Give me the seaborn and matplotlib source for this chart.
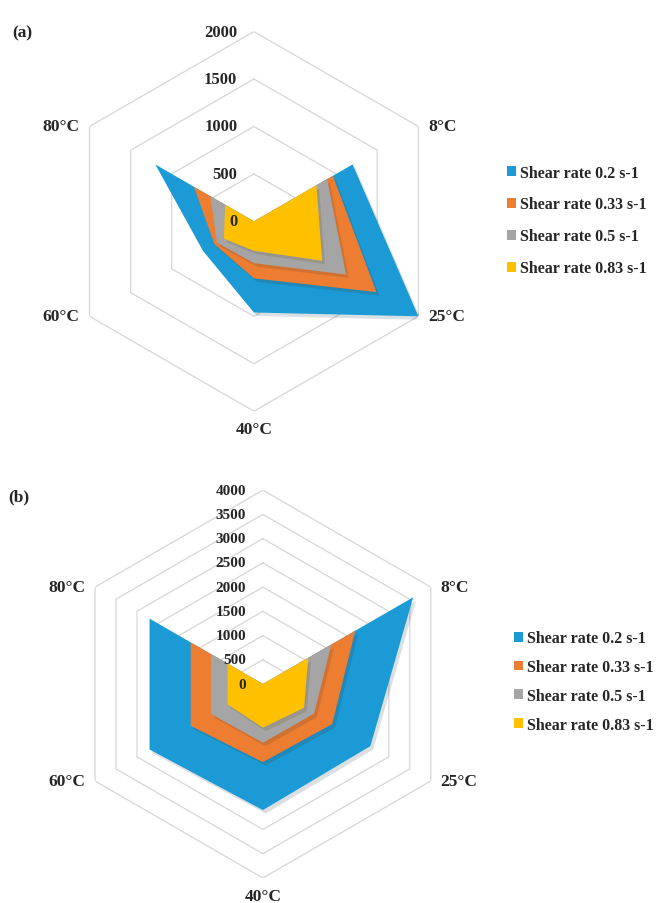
import numpy as np
import matplotlib
matplotlib.use("Agg")
import matplotlib.pyplot as plt
import matplotlib.patheffects as pe
from matplotlib.patches import Patch
import seaborn as sns

# categories around the radar, clockwise from the top (top spoke has no label)
categories = ["", "8°C", "25°C", "40°C", "60°C", "80°C"]
series_names = ["Shear rate 0.2 s-1", "Shear rate 0.33 s-1",
                "Shear rate 0.5 s-1", "Shear rate 0.83 s-1"]

# panel (a)
a_rate_02 = [0, 1200, 2000, 960, 620, 1200]
a_rate_033 = [0, 960, 1490, 600, 480, 730]
a_rate_05 = [0, 890, 1120, 440, 450, 530]
a_rate_083 = [0, 760, 830, 310, 365, 350]
a_ticks = [0, 500, 1000, 1500, 2000]

# panel (b)
b_rate_02 = [0, 3580, 2560, 2600, 2700, 2700]
b_rate_033 = [0, 2200, 1650, 1610, 1720, 1720]
b_rate_05 = [0, 1630, 1220, 1210, 1235, 1235]
b_rate_083 = [0, 1080, 980, 900, 840, 840]
b_ticks = [0, 500, 1000, 1500, 2000, 2500, 3000, 3500, 4000]

sns.set_style("white")
plt.rcParams["font.family"] = ["Liberation Serif", "DejaVu Serif"]
plt.rcParams["font.weight"] = "bold"

palette = sns.color_palette(["#1b9ad6", "#ed7d31", "#a5a5a5", "#ffc000"])

fig = plt.figure(figsize=(6.56, 9.04), dpi=100)
fig.patch.set_facecolor("white")

theta = np.linspace(0, 2 * np.pi, len(categories), endpoint=False)
closed = np.append(theta, theta[0])


def radar(rect, series, ticks, tick_size, leg_anchor, leg_space):
    ax = fig.add_axes(rect, projection="polar")
    ax.set_theta_zero_location("N")
    ax.set_theta_direction(-1)
    ax.set_ylim(0, ticks[-1])
    ax.grid(False)
    ax.spines["polar"].set_visible(False)
    ax.set_xticks([])
    ax.set_yticks([])
    ax.set_facecolor("none")

    # hexagonal grid rings
    for t in ticks[1:]:
        ax.plot(closed, [t] * len(closed), color="#d6d6d6", lw=0.9, zorder=1)

    for vals, c in zip(series, palette):
        v = list(vals) + [vals[0]]
        ax.fill(closed, v, color=c, lw=0, zorder=2,
                path_effects=[pe.SimplePatchShadow(offset=(2, -2.5), alpha=0.15),
                              pe.Normal()])

    for t in ticks:
        ax.annotate(f"{t}", xy=(0, t), xytext=(-12, 0), textcoords="offset points",
                    ha="right", va="center", fontsize=tick_size, fontweight="bold",
                    zorder=5)

    rmax = ticks[-1]
    for ang, lab in zip(theta, categories):
        if not lab:
            continue
        deg = np.degrees(ang)
        if deg < 170:
            off, ha = (7, 0), "left"
        elif deg < 190:
            off, ha = (0, -13), "center"
        else:
            off, ha = (-7, 0), "right"
        ax.annotate(lab, xy=(ang, rmax), xytext=off, textcoords="offset points",
                    ha=ha, va="center", fontsize=12.5, fontweight="bold")

    handles = [Patch(facecolor=c, edgecolor="none") for c in palette]
    fig.legend(handles, series_names, loc="center left", bbox_to_anchor=leg_anchor,
               frameon=False, handlelength=0.55, handleheight=0.55,
               handletextpad=0.25, labelspacing=leg_space, borderpad=0,
               borderaxespad=0, prop={"weight": "bold", "size": 11.5})
    return ax


radar([0.0976, 0.544, 0.579, 0.420],
      [a_rate_02, a_rate_033, a_rate_05, a_rate_083],
      a_ticks, 12, (0.773, 0.755), 1.0)
radar([0.105, 0.0277, 0.5915, 0.429],
      [b_rate_02, b_rate_033, b_rate_05, b_rate_083],
      b_ticks, 11, (0.784, 0.245), 0.8)

fig.text(0.018, 1 - 33 / 904, "(a)", fontsize=12.5, fontweight="bold", va="center")
fig.text(0.012, 1 - 497 / 904, "(b)", fontsize=12.5, fontweight="bold", va="center")

plt.savefig("out.png", dpi=100)
